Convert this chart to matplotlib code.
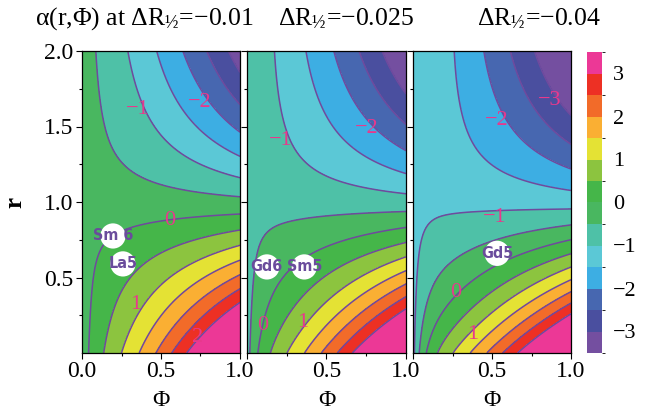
import numpy as np
import matplotlib
matplotlib.use('Agg')
import matplotlib.pyplot as plt
from matplotlib.colors import ListedColormap, BoundaryNorm
from matplotlib.cm import ScalarMappable

plt.rcParams['font.family'] = ['Liberation Serif', 'DejaVu Serif']
plt.rcParams['mathtext.fontset'] = 'custom'
plt.rcParams['mathtext.rm'] = 'Liberation Serif'
plt.rcParams['mathtext.it'] = 'Liberation Serif:italic'
plt.rcParams['axes.unicode_minus'] = True

# ---------------- data ----------------
delta_r_labels = ['−0.01', '−0.025', '−0.04']
fill_levels = [-3.5, -3.0, -2.5, -2.0, -1.5, -1.0, -0.5, 0.0, 0.5, 1.0, 1.5, 2.0, 2.5, 3.0, 3.5]
line_levels = [-3.0, -2.5, -2.0, -1.5, -1.0, -0.5, 0.0, 0.5, 1.0, 1.5, 2.0, 2.5, 3.0]
level_colors = ['#744FA0', '#4A4F9F', '#4767B0', '#3DAEE3', '#5BC8D6', '#4EC1A7',
                '#49B760', '#45B649', '#8CC43F', '#E4E234', '#FAAF33', '#F26B29',
                '#ED3024', '#EC3896']
cbar_ticks = [-3, -2, -1, 0, 1, 2, 3]

# first panel, right edge (Phi = 1): radius where each contour level meets it
r_right = [0.33, 0.43, 0.53, 0.62, 0.70, 0.80, 0.92, 1.04, 1.17, 1.31, 1.48, 1.61, 2.0]
alpha_right = [3.0, 2.5, 2.0, 1.5, 1.0, 0.5, 0.0, -0.5, -1.0, -1.5, -2.0, -2.5, -3.27]
# value on the Phi = 0 edge of the first panel, and the extra offset of each panel
edge_value = -0.30
panel_offset = [0.0, -0.425, -0.85]
edge_extra = 0.05
# shape parameters estimated from the contour bends
edge_width = 0.065       # width of the layer along Phi = 0
curvature = 0.25         # bending of the contours along Phi
step_r, step_w = 0.85, 0.15
offset_peak, offset_power, offset_fall = 1.0, 1.1, 0.33

# contour labels: (text, Phi, r)
contour_labels = [
    [('−1', 0.354, 1.61), ('−2', 0.747, 1.66), ('0', 0.557, 0.88), ('1', 0.34, 0.32), ('2', 0.73, 0.10)],
    [('−1', 0.21, 1.41), ('−2', 0.755, 1.49), ('0', 0.10, 0.185), ('1', 0.35, 0.205)],
    [('−3', 0.867, 1.675), ('−2', 0.53, 1.54), ('−1', 0.52, 0.90), ('0', 0.27, 0.40), ('1', 0.375, 0.12)],
]
# nuclei markers: (name, Phi, r)
nuclei = [
    [('Sm 6', 0.196, 0.775), ('La5', 0.259, 0.59)],
    [('Gd6', 0.125, 0.57), ('Sm5', 0.36, 0.57)],
    [('Gd5', 0.532, 0.66)],
]

# ---------------- field built from the readings ----------------
def step(x, x0, w):
    return 1.0 / (1.0 + np.exp(-(x - x0) / w))

r_right_a = np.array(r_right)
coef = np.polyfit(r_right_a, np.array(alpha_right) - edge_value * step(r_right_a, step_r, step_w), 3)

phi = np.linspace(0, 1, 301)
rr = np.linspace(0, 2, 401)
P, R = np.meshgrid(phi, rr)
G = np.polyval(coef, R)
U = (1 - curvature) * P / (1 - curvature * P)
S = step(R, step_r, step_w)
E = np.exp(-P / edge_width)
base = G * U + edge_value * (S + (1 - S) * E)
x = R / offset_peak
F = np.where(x < 1, x ** offset_power * np.exp(offset_power * (1 - x)), 1 - offset_fall * (x - 1))
shape = F + (np.clip(1 - F, 0, None) + edge_extra) * E

cmap = ListedColormap(level_colors)
cmap.set_over(level_colors[-1])
cmap.set_under(level_colors[0])
norm = BoundaryNorm(fill_levels, cmap.N)

# ---------------- figure ----------------
W, H = 646, 412
fig = plt.figure(figsize=(W / 100, H / 100), dpi=100)

panel_px = [(82, 240), (247, 406), (413, 571)]
top_px, bot_px = 51, 353
line_color = '#6F4A9E'
pink = '#E8398C'
mark_color = '#6A4C9C'

for k, (x0, x1) in enumerate(panel_px):
    ax = fig.add_axes([x0 / W, 1 - bot_px / H, (x1 - x0) / W, (bot_px - top_px) / H])
    field = base + panel_offset[k] * shape
    ax.contourf(P, R, field, levels=fill_levels, cmap=cmap, norm=norm, extend='both')
    ax.contour(P, R, field, levels=line_levels, colors=line_color, linewidths=1.1,
               linestyles='solid')
    ax.set_xlim(0, 1)
    ax.set_ylim(0, 2)
    ax.set_yticks([0.5, 1.0, 1.5, 2.0])
    ax.set_yticks([0.25, 0.75, 1.25, 1.75], minor=True)
    ax.set_xticks([0, 0.5, 1.0])
    ax.set_xticks([0.25, 0.75], minor=True)
    if k == 0:
        ax.set_yticklabels(['0.5', '1.0', '1.5', '2.0'])
        ax.set_xticklabels(['0.0', '0.5', '1.0'])
    else:
        ax.set_yticklabels([])
        ax.set_xticklabels(['', '0.5', '1.0'])
    ax.tick_params(which='major', length=4, width=0.8, labelsize=17, pad=2)
    ax.tick_params(which='minor', length=2.5, width=0.8)
    for s in ax.spines.values():
        s.set_linewidth(0.9)
    for txt, px, py in contour_labels[k]:
        ax.text(px, py, txt, color=pink, fontsize=16, ha='center', va='center', zorder=5)
    for name, px, py in nuclei[k]:
        ax.scatter([px], [py], s=330, c='white', edgecolors='none', zorder=6)
        ax.text(px, py, name, color=mark_color, fontsize=11.5, fontweight='bold',
                family='DejaVu Sans', fontstretch='condensed',
                ha='center', va='center', zorder=7)
    fig.text((x0 + x1) / 2 / W, 1 - 400 / H, 'Φ', fontsize=17, ha='center', va='center')

# titles
title_y = 1 - 19 / H
fig.text(35 / W, title_y, 'α(r,Φ) at Δ$\\mathrm{R}_{½}$=' + delta_r_labels[0], fontsize=18.5, ha='left', va='center')
fig.text(278 / W, title_y, 'Δ$\\mathrm{R}_{½}$=' + delta_r_labels[1], fontsize=18.5, ha='left', va='center')
fig.text(477 / W, title_y, 'Δ$\\mathrm{R}_{½}$=' + delta_r_labels[2], fontsize=18.5, ha='left', va='center')

# y label
fig.text(15 / W, 1 - 202 / H, 'r', fontsize=18, fontweight='bold', rotation=90, ha='center', va='center')

# colorbar
cax = fig.add_axes([587 / W, 1 - 353 / H, 15 / W, (353 - 52) / H])
sm = ScalarMappable(norm=norm, cmap=ListedColormap(level_colors))
cb = fig.colorbar(sm, cax=cax, ticks=cbar_ticks)
cb.outline.set_visible(False)
cb.ax.tick_params(length=0, labelsize=16, pad=8)
cb.ax.set_yticklabels(['−3', '−2', '−1', '0', '1', '2', '3'])

fig.savefig('out.png', dpi=100)
